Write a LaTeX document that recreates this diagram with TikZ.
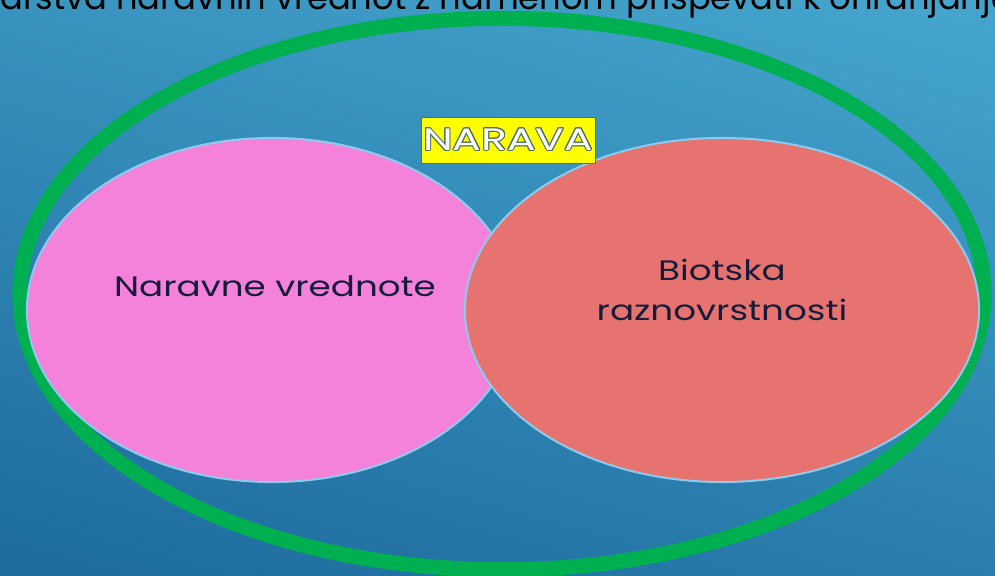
\documentclass[tikz,border=0pt]{standalone}
\usepackage{fontspec}
\setmainfont{Poppins}
\newfontfamily\widefont[FakeStretch=1.27]{Poppins}
\newfontfamily\tagfont[FakeStretch=1.37]{Poppins}
\usepackage{contour}
\usetikzlibrary{shapes.geometric}
\definecolor{bgtop}{HTML}{44A4CC}
\definecolor{bgbot}{HTML}{1E6C9F}
\definecolor{ringgreen}{HTML}{00B050}
\definecolor{pinkfill}{HTML}{F582DA}
\definecolor{redfill}{HTML}{E6736F}
\definecolor{edgeblue}{HTML}{8CCBEE}
\definecolor{inktext}{HTML}{161D3A}
\definecolor{tagyellow}{HTML}{FFFF00}
\definecolor{tagedge}{HTML}{4F6E62}
\contourlength{0.7pt}
\begin{document}
\begin{tikzpicture}[x=0.025cm,y=-0.025cm,
blob/.style={ellipse,draw=edgeblue,line width=0.05cm,inner sep=0pt,minimum height=8.6cm},
lbl/.style={font=\widefont\fontsize{20}{29}\selectfont,text=inktext,align=center},
tag/.style={draw=tagedge,fill=tagyellow,minimum width=4.35cm,minimum height=1.15cm,inner sep=0pt,font=\tagfont\fontsize{22}{24}\selectfont}
]
\useasboundingbox (0,0) rectangle (995,576);
\clip (0,0) rectangle (995,576);
\shade[top color=bgtop,bottom color=bgbot,shading angle=-15] (-50,-50) rectangle (1045,626);
\node[ellipse,draw=ringgreen,line width=0.375cm,minimum width=24.1cm,minimum height=13.78cm,inner sep=0pt] (ring) at (502,294) {};
\node[blob,fill=pinkfill,minimum width=12.25cm] (vrednote) at (272,310) {};
\node[blob,fill=redfill,minimum width=12.85cm] (biotska) at (722,310) {};
\node[lbl,anchor=base] (vrednotetxt) at (275,297) {Naravne vrednote};
\node[lbl] (biotskatxt) at (722,290) {Biotska\\raznovrstnosti};
\node[tag] (narava) at (508,140) {\contour{tagedge}{\textcolor{white}{NARAVA}}};
\node[anchor=base west,inner sep=0pt,font=\fontsize{24}{28}\selectfont,text=black] (heading) at (0,10) {\llap{V}arstva naravnih vrednot z namenom prispevati k ohranjanju};
\end{tikzpicture}
\end{document}
